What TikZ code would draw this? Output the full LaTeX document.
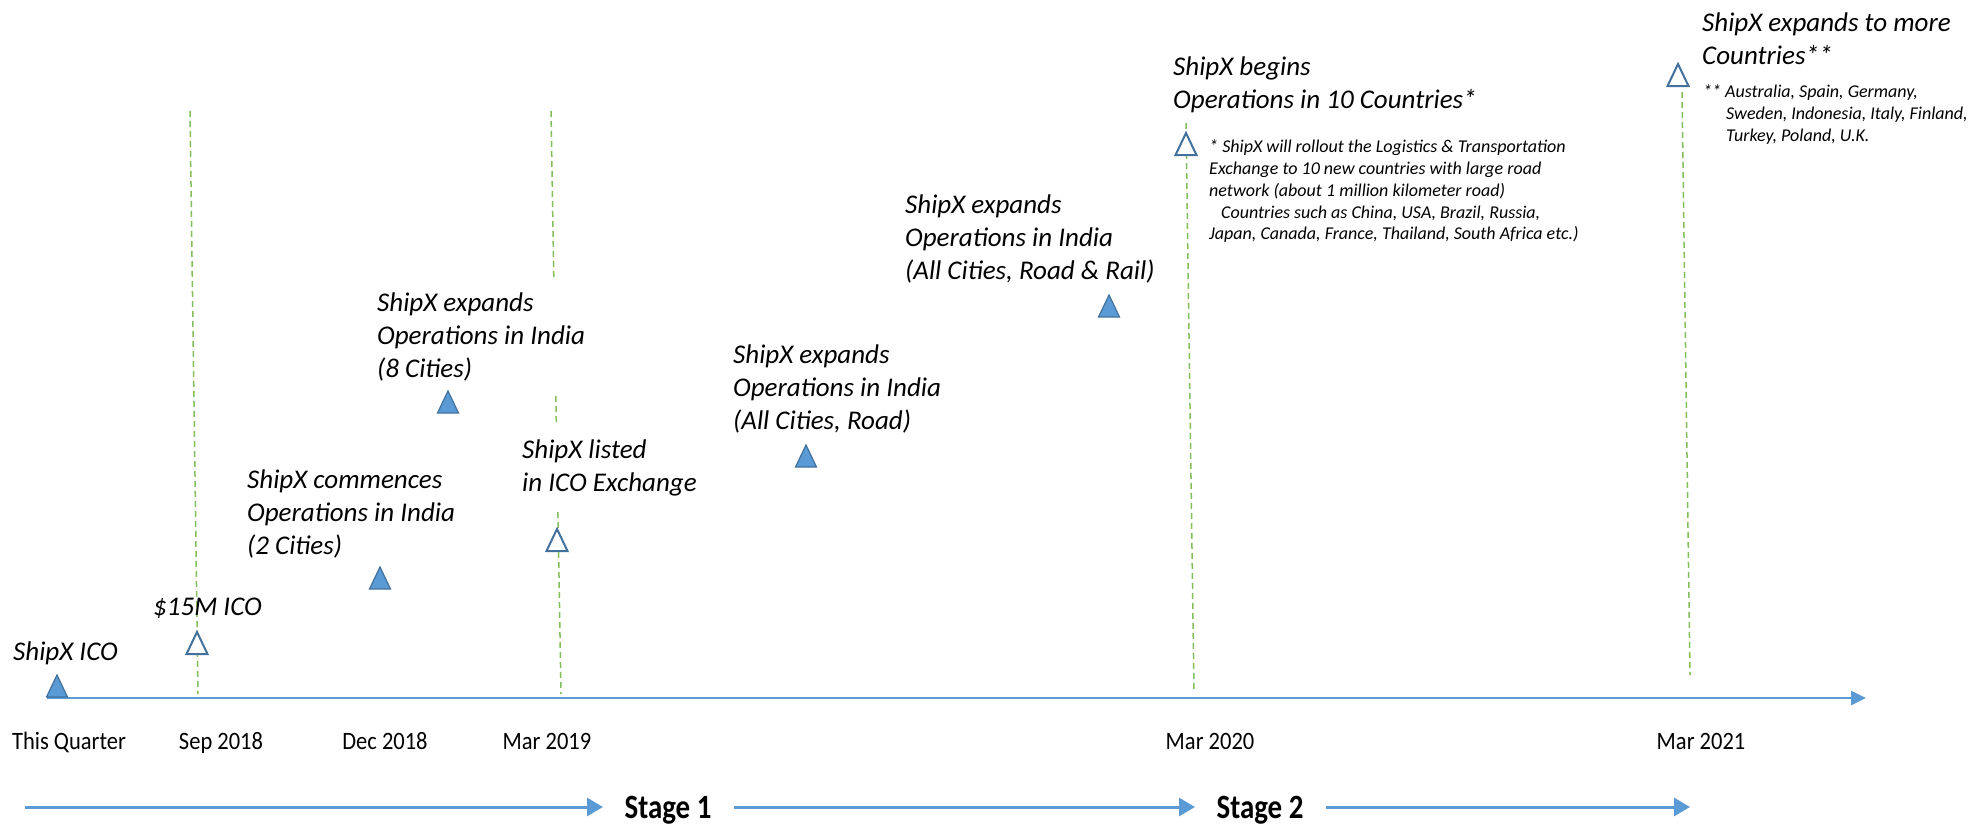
\documentclass[tikz,border=0pt]{standalone}
\usepackage{fontspec}
\setmainfont{Carlito}
\newfontfamily\datefont[FakeStretch=0.9]{Carlito}
\newfontfamily\stagefont[FakeStretch=0.85]{Carlito}
\usetikzlibrary{arrows.meta}
\definecolor{axisblue}{RGB}{91,155,213}
\definecolor{triedge}{RGB}{65,113,156}
\definecolor{dashgreen}{RGB}{130,190,90}
\newcommand{\mktri}[4]{%
  \coordinate (#1) at (#2,#3);
  \draw[#4] ([xshift=-10.5pt]#1) -- ([xshift=10.5pt]#1) -- ([yshift=22pt]#1) -- cycle;}
\begin{document}
\begin{tikzpicture}[x=1pt,y=-1pt,
  trifill/.style={fill=axisblue, draw=triedge, line width=1.2pt},
  triopen/.style={fill=white, draw=triedge, line width=2pt},
  guide/.style={draw=dashgreen, line width=1.5pt, dash pattern=on 6pt off 4pt},
  axisline/.style={draw=axisblue, line width=2.5pt, -{Triangle[length=15pt,width=14pt]}},
  stagearrow/.style={draw=axisblue, line width=3pt, -{Triangle[length=16pt,width=18pt]}},
  lbl/.style={anchor=north west, inner sep=0pt, align=left, font=\fontsize{27}{32.7}\selectfont\itshape},
  notelbl/.style={anchor=north west, inner sep=0pt, align=left, font=\fontsize{18}{21.7}\selectfont\itshape},
  datelbl/.style={anchor=base, inner sep=0pt, font=\datefont\fontsize{25}{30}\selectfont},
  stagelbl/.style={anchor=base, inner sep=0pt, font=\stagefont\bfseries\fontsize{34}{40}\selectfont}]
\useasboundingbox (0,0) rectangle (1977,825);

% guide lines
\coordinate (g1a) at (190,111); \coordinate (g1b) at (198,694);
\draw[guide] (g1a) -- (g1b);
\coordinate (g2a) at (551,111); \coordinate (g2b) at (553.8,277);
\coordinate (g2c) at (555.9,396); \coordinate (g2d) at (556.3,423);
\coordinate (g2e) at (557.9,512); \coordinate (g2f) at (561,694);
\draw[guide] (g2a) -- (g2b);
\draw[guide] (g2c) -- (g2d);
\draw[guide] (g2e) -- (g2f);
\coordinate (g3a) at (1186,123); \coordinate (g3b) at (1194,691);
\draw[guide] (g3a) -- (g3b);
\coordinate (g4a) at (1682,92); \coordinate (g4b) at (1690,675);
\draw[guide] (g4a) -- (g4b);

% axis
\coordinate (ax0) at (47,698); \coordinate (ax1) at (1866,698);
\draw[axisline] (ax0) -- (ax1);

% triangles
\mktri{t1}{57}{697}{trifill}
\mktri{t2}{197}{654}{triopen}
\mktri{t3}{380}{589}{trifill}
\mktri{t4}{448}{413}{trifill}
\mktri{t5}{557}{551}{triopen}
\mktri{t6}{806}{467}{trifill}
\mktri{t7}{1109}{317}{trifill}
\mktri{t8}{1186}{155}{triopen}
\mktri{t9}{1678}{86}{triopen}

% labels
\node[lbl] (l1) at (13,642) {ShipX ICO};
\node[lbl] (l2) at (153,598) {\$15M ICO};
\node[lbl] (l3) at (247,470) {ShipX commences\\Operations in India\\(2 Cities)};
\node[lbl] (l4) at (377,293) {ShipX expands\\Operations in India\\(8 Cities)};
\node[lbl] (l5) at (522,440) {ShipX listed\\in ICO Exchange};
\node[lbl] (l6) at (733,345) {ShipX expands\\Operations in India\\(All Cities, Road)};
\node[lbl] (l7) at (905,195) {ShipX expands\\Operations in India\\(All Cities, Road \& Rail)};
\node[lbl] (l8) at (1173,57) {ShipX begins\\Operations in 10 Countries*};
\node[notelbl] (n1) at (1209,140) {* ShipX will rollout the Logistics \& Transportation\\Exchange to 10 new countries with large road\\network (about 1 million kilometer road)\\\hspace*{12pt}Countries such as China, USA, Brazil, Russia,\\Japan, Canada, France, Thailand, South Africa etc.)};
\node[lbl] (l9) at (1702,13) {ShipX expands to more\\Countries**};
\node[notelbl] (n2) at (1703,85) {** Australia, Spain, Germany,\\\hspace*{23pt}Sweden, Indonesia, Italy, Finland,\\\hspace*{23pt}Turkey, Poland, U.K.};

% dates
\node[datelbl] (d0) at (69,749) {This Quarter};
\node[datelbl] (d1) at (221,749) {Sep 2018};
\node[datelbl] (d2) at (385,749) {Dec 2018};
\node[datelbl] (d3) at (547,749) {Mar 2019};
\node[datelbl] (d4) at (1210,749) {Mar 2020};
\node[datelbl] (d5) at (1701,749) {Mar 2021};

% stages
\coordinate (s0) at (25,807);
\node[stagelbl] (st1) at (668,818) {Stage 1};
\node[stagelbl] (st2) at (1260,818) {Stage 2};
\coordinate (s3) at (1690,807);
\coordinate (a1) at (603,807); \coordinate (a2s) at (734,807);
\coordinate (a2) at (1195,807); \coordinate (a3s) at (1326,807);
\draw[stagearrow] (s0) -- (a1);
\draw[stagearrow] (a2s) -- (a2);
\draw[stagearrow] (a3s) -- (s3);
\end{tikzpicture}
\end{document}
